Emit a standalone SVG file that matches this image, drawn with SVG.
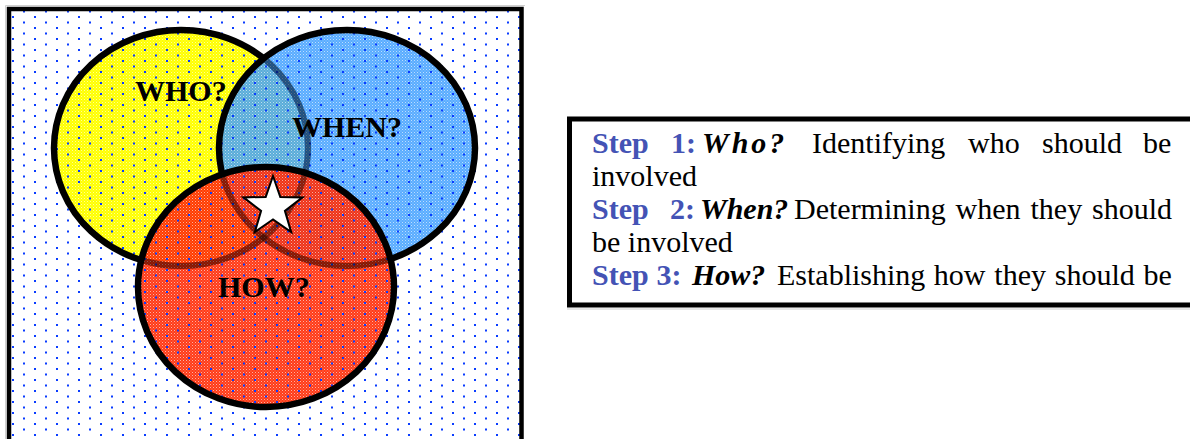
<svg xmlns="http://www.w3.org/2000/svg" width="1190" height="439" viewBox="0 0 1190 439">
<style>
.venn{font-family:"Liberation Serif","Times New Roman",serif;font-weight:bold;font-size:30px;fill:#000}
.ring{fill:none;stroke:#000;stroke-width:6.5}
.ghost{fill:none;stroke:#000;stroke-width:6;stroke-opacity:0.4}
.txt{font-family:"Liberation Serif","Times New Roman",serif;font-size:30px;fill:#000}
.step{font-weight:bold;fill:#4453b5}
.q{font-weight:bold;font-style:italic}
.dot{fill:#0a3cff}
.spk{fill:url(#speck)}
.dov{fill:url(#dots)}
</style>
<defs>
<pattern id="dots" patternUnits="userSpaceOnUse" x="8" y="14" width="22" height="11">
<rect class="dot" x="4" y="2" width="2" height="2"/>
<rect class="dot" x="15" y="7.5" width="2" height="2"/>
</pattern>
<pattern id="speck" patternUnits="userSpaceOnUse" x="0" y="0" width="3" height="3">
<rect x="0" y="0" width="1" height="1" fill="#ffffff"/>
<rect x="1.5" y="1.5" width="1" height="1" fill="#ffffff" fill-opacity="0.6"/>
</pattern>
<clipPath id="clipB"><ellipse cx="347" cy="148" rx="125" ry="115"/></clipPath>
<clipPath id="clipR"><ellipse cx="266" cy="287" rx="125" ry="117"/></clipPath>
</defs>
<rect width="1190" height="439" fill="#fff"/>
<g id="panel">
<rect x="9" y="9" width="513" height="432" class="dov"/>
<path d="M5.5,439 V5.5 H525" fill="none" stroke="#d0d0d0" stroke-width="1"/>
<path d="M9,439 V9 H521.5 V439" fill="none" stroke="#000" stroke-width="4.5"/>
</g>
<g id="who">
<ellipse cx="181" cy="148" rx="127" ry="118" fill="#ffff00"/>
<ellipse cx="181" cy="148" rx="127" ry="118" class="spk" opacity="0.6"/>
<ellipse cx="181" cy="148" rx="127" ry="118" class="dov"/>
<ellipse class="ring" cx="181" cy="148" rx="127" ry="118"/>
</g>
<g id="when">
<g opacity="0.85">
<ellipse cx="347" cy="148" rx="128" ry="118" fill="#3d9eff"/>
<ellipse cx="347" cy="148" rx="128" ry="118" class="spk" opacity="0.6"/>
<ellipse cx="347" cy="148" rx="128" ry="118" class="dov"/>
</g>
<ellipse class="ghost" cx="181" cy="148" rx="127" ry="118" clip-path="url(#clipB)"/>
<ellipse class="ring" cx="347" cy="148" rx="128" ry="118"/>
</g>
<g id="how">
<g opacity="0.9">
<ellipse cx="266" cy="287" rx="128" ry="120" fill="#ff2600"/>
<ellipse cx="266" cy="287" rx="128" ry="120" class="spk" opacity="0.6"/>
<ellipse cx="266" cy="287" rx="128" ry="120" class="dov"/>
</g>
<g clip-path="url(#clipR)">
<ellipse class="ghost" cx="181" cy="148" rx="127" ry="118"/>
<ellipse class="ghost" cx="347" cy="148" rx="128" ry="118"/>
</g>
<ellipse class="ring" cx="266" cy="287" rx="128" ry="120"/>
</g>
<g id="labels">
<text class="venn" x="135" y="101">WHO?</text>
<text class="venn" x="292" y="137">WHEN?</text>
<text class="venn" x="218" y="297">HOW?</text>
</g>
<g id="star">
<path d="M273,176 L280.3,196.9 L302.5,197.4 L284.9,210.9 L291.2,232.1 L273,219.5 L254.8,232.1 L261.1,210.9 L243.5,197.4 L265.7,196.9 Z" fill="#fff" stroke="#000" stroke-width="2"/>
</g>
<g id="steps">
<path d="M567,309 H1190" stroke="#d0d0d0" stroke-width="1"/>
<path d="M1190,119 H569.5 V305 H1190" fill="none" stroke="#000" stroke-width="5"/>
<text class="txt" y="153"><tspan class="step" x="592">Step</tspan><tspan class="step" x="671">1:</tspan><tspan class="q" x="702" letter-spacing="3">Who?</tspan><tspan x="812">Identifying</tspan><tspan x="968">who</tspan><tspan x="1042">should</tspan><tspan x="1143">be</tspan></text>
<text class="txt" x="592" y="186">involved</text>
<text class="txt" y="219"><tspan class="step" x="592">Step</tspan><tspan class="step" x="670">2:</tspan><tspan class="q" x="700">When?</tspan><tspan x="794">Determining</tspan><tspan x="955.6">when</tspan><tspan x="1030.5">they</tspan><tspan x="1092.1">should</tspan></text>
<text class="txt" x="592" y="252">be involved</text>
<text class="txt" y="285"><tspan class="step" x="592">Step</tspan><tspan class="step" x="656.5">3:</tspan><tspan class="q" x="692">How?</tspan><tspan x="777">Establishing</tspan><tspan x="933.8">how</tspan><tspan x="994.3">they</tspan><tspan x="1054.8">should</tspan><tspan x="1143.6">be</tspan></text>
</g>
</svg>
